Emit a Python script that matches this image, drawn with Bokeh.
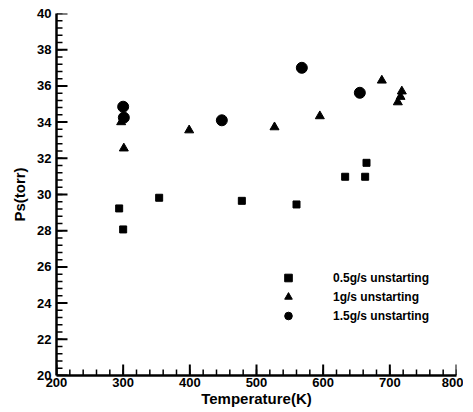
from bokeh.plotting import figure
from bokeh.models import FixedTicker, Legend, LegendItem, Range1d
from bokeh.embed import file_html
from bokeh.resources import INLINE

# Data
t_05 = [294, 300, 354, 478, 560, 633, 663, 665]
p_05 = [29.23, 28.07, 29.82, 29.65, 29.45, 30.98, 30.98, 31.75]

t_10 = [301, 297, 399, 527, 595, 688, 718, 716, 712]
p_10 = [32.55, 34.0, 33.55, 33.72, 34.33, 36.3, 35.7, 35.4, 35.1]

t_15 = [300, 301, 448, 568, 655]
p_15 = [34.85, 34.25, 34.1, 37.0, 35.62]

x_ticks = [200, 300, 400, 500, 600, 700, 800]
y_ticks = [20, 22, 24, 26, 28, 30, 32, 34, 36, 38, 40]
x_minor = list(range(200, 801, 20))
y_minor = [round(20 + 0.4 * i, 1) for i in range(51)]

labels = ["0.5g/s unstarting", "1g/s unstarting", "1.5g/s unstarting"]

FONT = "Liberation Sans"
X0, X1, Y0, Y1 = 200, 800, 20, 40
FW, FH = 400, 362

p = figure(width=463, height=403, output_backend="svg", toolbar_location=None,
           x_range=Range1d(X0, X1), y_range=Range1d(Y0, Y1),
           frame_width=FW, frame_height=FH,
           min_border_left=56, min_border_right=7, min_border_top=13, min_border_bottom=28)
p.outline_line_color = None
p.grid.visible = False

# inward ticks as glyphs (pixel lengths converted to data units)
dx = (X1 - X0) / FW
dy = (Y1 - Y0) / FH
p.segment(x0=x_minor, y0=[Y0] * len(x_minor), x1=x_minor, y1=[Y0 + 6 * dy] * len(x_minor),
          line_color="black", line_width=1.5)
p.segment(x0=x_ticks, y0=[Y0] * len(x_ticks), x1=x_ticks, y1=[Y0 + 11 * dy] * len(x_ticks),
          line_color="black", line_width=2)
p.segment(x0=[X0] * len(y_minor), y0=y_minor, x1=[X0 + 6 * dx] * len(y_minor), y1=y_minor,
          line_color="black", line_width=1.5)
p.segment(x0=[X0] * len(y_ticks), y0=y_ticks, x1=[X0 + 11 * dx] * len(y_ticks), y1=y_ticks,
          line_color="black", line_width=2)

r1 = p.scatter(t_05, p_05, marker="square", size=7, color="black")
r2 = p.scatter(t_10, p_10, marker="triangle", size=9, color="black")
r3 = p.scatter(t_15, p_15, marker="circle", size=11, color="black")

p.xaxis.ticker = FixedTicker(ticks=x_ticks, minor_ticks=[])
p.yaxis.ticker = FixedTicker(ticks=y_ticks, minor_ticks=[])
for ax in (p.xaxis[0], p.yaxis[0]):
    ax.axis_line_width = 2.5
    ax.axis_line_color = "black"
    ax.major_tick_in = 0
    ax.major_tick_out = 0
    ax.minor_tick_in = 0
    ax.minor_tick_out = 0
    ax.major_label_text_font = FONT
    ax.major_label_text_font_style = "bold"
    ax.major_label_text_font_size = "13px"
    ax.major_label_text_color = "black"
    ax.axis_label_text_font = FONT
    ax.axis_label_text_font_style = "bold"
    ax.axis_label_text_font_size = "15px"
    ax.axis_label_text_color = "black"

p.xaxis.major_label_standoff = 2
p.xaxis.axis_label_standoff = 0
p.yaxis.major_label_standoff = 5
p.yaxis.axis_label_standoff = 6

p.xaxis.axis_label = "Temperature(K)"
p.yaxis.axis_label = "Ps(torr)"

legend = Legend(items=[LegendItem(label=labels[0], renderers=[r1]),
                       LegendItem(label=labels[1], renderers=[r2]),
                       LegendItem(label=labels[2], renderers=[r3])],
                location=(222, 50), orientation="vertical",
                glyph_width=20, glyph_height=19, label_height=19,
                label_standoff=35, spacing=0, padding=0, margin=0,
                border_line_alpha=0, background_fill_alpha=0,
                label_text_font=FONT, label_text_font_style="bold",
                label_text_font_size="12px", label_text_color="black")
p.add_layout(legend)

open("out.html", "w").write(file_html(p, INLINE))
